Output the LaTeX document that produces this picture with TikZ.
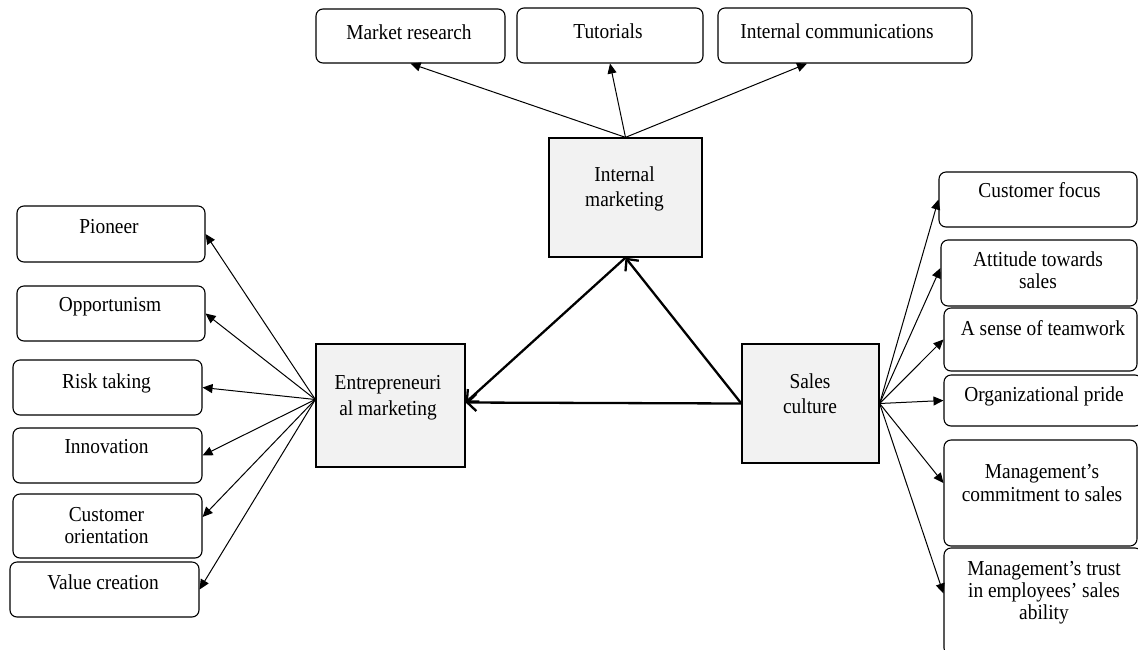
\documentclass[tikz,border=0pt]{standalone}
\usepackage{fontspec}
\setmainfont{Liberation Serif}[FakeStretch=0.91]
\usetikzlibrary{arrows.meta}
\definecolor{boxgray}{HTML}{F2F2F2}
\tikzset{
  rbox/.style={draw=black, rounded corners=7pt, line width=1.1pt, inner sep=0pt, fill=white},
  cbox/.style={draw=black, line width=1.3pt, inner sep=0pt, fill=boxgray},
  lbl/.style={inner sep=0pt, anchor=base, font=\fontsize{21.3}{22}\selectfont},
  thin/.style={line width=1pt, -{Triangle[length=10pt,width=9pt]}},
  thick/.style={line width=2.3pt, -{Straight Barb[length=9pt,width=17pt]}}
}
\begin{document}
\begin{tikzpicture}[x=1pt,y=-1pt]
\useasboundingbox (0,0) rectangle (1138,649);
% top boxes
\node[rbox, minimum width=189pt, minimum height=54pt] (mr) at (410.5,36) {};
\node[rbox, minimum width=186pt, minimum height=55pt] (tut) at (610,35.5) {};
\node[rbox, minimum width=254pt, minimum height=55pt] (ic) at (845,35.5) {};
\node[lbl] (mrt) at (409,39) {Market research};
\node[lbl] (tutt) at (608,38) {Tutorials};
\node[lbl] (ict) at (837,38.5) {Internal communications};
% central boxes
\node[cbox, minimum width=153pt, minimum height=119pt] (int) at (625.5,197.5) {};
\node[cbox, minimum width=149pt, minimum height=123pt] (ent) at (390.5,405.5) {};
\node[cbox, minimum width=137pt, minimum height=119pt] (scl) at (810.5,403.5) {};
\node[lbl] (intt1) at (624.5,181) {Internal};
\node[lbl] (intt2) at (624.5,206) {marketing};
\node[lbl] (entt1) at (388,389) {Entrepreneuri};
\node[lbl] (entt2) at (388,415) {al marketing};
\node[lbl] (sclt1) at (810,388) {Sales};
\node[lbl] (sclt2) at (810,413) {culture};
% left boxes
\node[rbox, minimum width=188pt, minimum height=56pt] (pio) at (111,234) {};
\node[rbox, minimum width=188pt, minimum height=55pt] (opp) at (111,313.5) {};
\node[rbox, minimum width=189pt, minimum height=55pt] (risk) at (107.5,387.5) {};
\node[rbox, minimum width=189pt, minimum height=55pt] (inn) at (107.5,455.5) {};
\node[rbox, minimum width=189pt, minimum height=64pt] (co) at (107.5,526) {};
\node[rbox, minimum width=189pt, minimum height=55pt] (vc) at (104.5,589.5) {};
\node[lbl] (piot) at (109,233) {Pioneer};
\node[lbl] (oppt) at (110,311) {Opportunism};
\node[lbl] (riskt) at (106.5,388) {Risk taking};
\node[lbl] (innt) at (106.5,453) {Innovation};
\node[lbl] (cot1) at (106.5,521) {Customer};
\node[lbl] (cot2) at (106.5,543) {orientation};
\node[lbl] (vct) at (103,589) {Value creation};
% right boxes
\node[rbox, minimum width=198pt, minimum height=55pt] (cf) at (1038,199.5) {};
\node[rbox, minimum width=196pt, minimum height=66pt] (att) at (1039,273) {};
\node[rbox, minimum width=193pt, minimum height=63pt] (tw) at (1040.5,339.5) {};
\node[rbox, minimum width=198pt, minimum height=51pt] (opr) at (1043,400.5) {};
\node[rbox, minimum width=193pt, minimum height=106pt] (com) at (1040.5,493) {};
\node[rbox, minimum width=198pt, minimum height=107pt] (tr) at (1043,601.5) {};
\node[lbl] (cft) at (1039.5,197) {Customer focus};
\node[lbl] (attt1) at (1038,266) {Attitude towards};
\node[lbl] (attt2) at (1038,288) {sales};
\node[lbl] (twt) at (1043,335) {A sense of teamwork};
\node[lbl] (oprt) at (1044,401) {Organizational pride};
\node[lbl] (comt1) at (1042,478) {Management's};
\node[lbl] (comt2) at (1042,501) {commitment to sales};
\node[lbl] (trt1) at (1044,575) {Management's trust};
\node[lbl] (trt2) at (1044,597) {in employees' sales};
\node[lbl] (trt3) at (1044,619) {ability};
% top connectors
\draw[thin] (int.north) -- (mr.south);
\draw[thin] (int.north) -- (tut.south);
\draw[thin] (int.north) -- ([xshift=-38pt]ic.south);
% left connectors
\coordinate (entL) at ([yshift=6pt]ent.west);
\draw[thin] (entL) -- (pio.east);
\draw[thin] (entL) -- (opp.east);
\draw[thin] (entL) -- (risk.east);
\draw[thin] (entL) -- (inn.east);
\draw[thin] (entL) -- ([yshift=9pt]co.east);
\draw[thin] (entL) -- (vc.east);
% right connectors
\draw[thin] (scl.east) -- (cf.west);
\draw[thin] (scl.east) -- ([yshift=5pt]att.west);
\draw[thin] (scl.east) -- (tw.west);
\draw[thin] (scl.east) -- (opr.west);
\draw[thin] (scl.east) -- ([yshift=10pt]com.west);
\draw[thin] (scl.east) -- ([yshift=8pt]tr.west);
% central connectors
\draw[thick] (scl.west) -- ([yshift=3pt]ent.east);
\draw[thick] (scl.west) -- (int.south);
\draw[thick] (int.south) -- ([yshift=3pt]ent.east);
\end{tikzpicture}
\end{document}
